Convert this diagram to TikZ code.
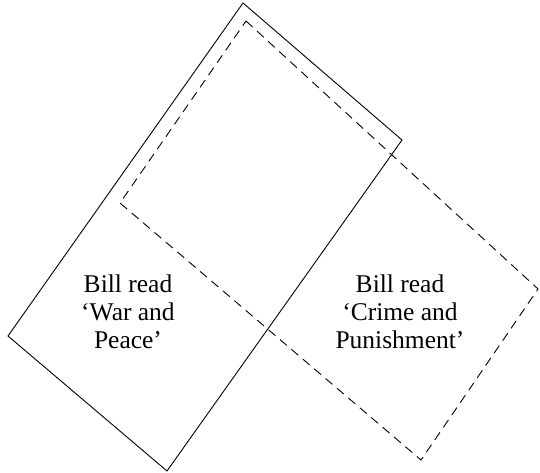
\documentclass[tikz,border=0pt]{standalone}
\usepackage{fontspec}
\setmainfont{Liberation Serif}
\usetikzlibrary{positioning}
\tikzset{
  outline/.style={draw=black,line width=0.9pt,line join=miter},
  dashline/.style={outline,dashed,dash pattern=on 9pt off 6pt},
  caption/.style={
    align=center,
    inner sep=0pt,
    font=\fontsize{25.5}{28}\selectfont
  }
}
\begin{document}
\begin{tikzpicture}[x=1pt,y=-1pt]
    \useasboundingbox (0,0) rectangle (540,473);

    \coordinate (wtop) at (243,3);
    \coordinate (wright) at (402,140);
    \coordinate (wbottom) at (167,471);
    \coordinate (wleft) at (8,336);

    \coordinate (ctop) at (246,21);
    \coordinate (cright) at (538,289);
    \coordinate (cbottom) at (421,460);
    \coordinate (cleft) at (120,203);

    \draw[outline] (wtop) -- (wright) -- (wbottom) -- (wleft) -- cycle;
    \draw[dashline] (ctop) -- (cright) -- (cbottom) -- (cleft) -- cycle;

    \node[caption] (war) at (128,312) {Bill read\\`War and\\Peace'};
    \node[caption] (crime) at (400,312) {Bill read\\`Crime and\\Punishment'};
\end{tikzpicture}
\end{document}
